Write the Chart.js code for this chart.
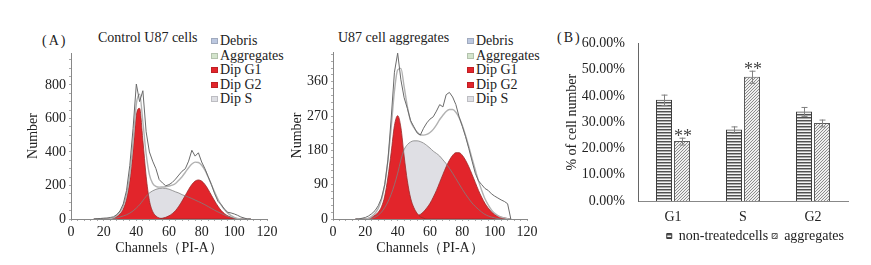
<!DOCTYPE html>
<html>
<head>
<meta charset="utf-8">
<script src="https://cdn.jsdelivr.net/npm/chart.js@4.4.0/dist/chart.umd.min.js"></script>
<style>
body { margin: 0; background: #fff; width: 871px; height: 265px; position: relative; overflow: hidden; font-family: "Liberation Serif", serif; color: #222; }
canvas { position: absolute; }
.lbl { position: absolute; font-size: 14px; line-height: 14px; white-space: nowrap; }
.leg { position: absolute; font-size: 14px; line-height: 14.5px; }
.leg div { position: relative; padding-left: 9px; white-space: nowrap; }
.leg span { position: absolute; left: 0; top: 4px; width: 7px; height: 6px; box-sizing: border-box; border: 1px solid rgba(0,0,0,0.15); }
</style>
</head>
<body>
<div class="lbl" style="left:42px;top:34px;letter-spacing:2px">(A)</div>
<div class="lbl" style="left:98px;top:31px">Control U87 cells</div>
<div class="lbl" style="left:338px;top:31px">U87 cell aggregates</div>
<div class="lbl" style="left:557px;top:31px;letter-spacing:2px">(B)</div>
<div class="leg" id="legCtrl" style="left:211px;top:34px"></div>
<div class="leg" id="legAggr" style="left:467px;top:34px"></div>
<canvas id="ctrl" width="285" height="235" style="left:0;top:30px"></canvas>
<canvas id="aggr" width="265" height="235" style="left:285px;top:30px"></canvas>
<canvas id="bars" width="311" height="235" style="left:560px;top:30px"></canvas>
<script>
// channel grid shared by all histogram series
const channels = [14,16,18,20,22,24,26,28,30,32,34,36,38,40,42,44,46,48,50,52,54,56,58,60,62,64,66,68,70,72,74,76,78,80,82,84,86,88,90,92,94,96,98,100,102,104,106,108,110];

// Control U87 cells
const ctrlG1  = [0,0,0,0,0,2,6,15,30,60,120,230,410,620,660,470,255,110,45,18,6,2,0,0,0,0,0,0,0,0,0,0,0,0,0,0,0,0,0,0,0,0,0,0,0,0,0,0,0];
const ctrlS   = [0,0,0,0,0,0,2,6,12,18,25,35,48,65,85,110,135,155,168,177,182,184,182,178,170,162,155,145,138,130,122,113,104,95,85,74,63,52,42,33,24,16,10,5,2,0,0,0,0];
const ctrlG2  = [0,0,0,0,0,0,0,0,0,0,0,0,0,0,0,0,0,0,0,0,2,5,10,19,32,50,76,107,141,176,206,226,233,226,206,176,141,107,76,50,32,19,10,5,2,0,0,0,0];
const ctrlFit = [0,0,0,0,0,2,8,21,42,78,145,265,458,685,745,580,390,265,213,195,190,191,192,197,202,212,231,252,279,306,328,339,337,321,291,250,204,159,118,83,56,35,20,10,4,1,0,0,0];
const ctrlRaw = [0,2,3,5,6,9,13,26,48,90,170,320,540,805,700,765,520,400,345,300,235,215,198,205,218,238,262,285,300,345,410,375,395,340,300,252,205,150,105,85,58,40,36,30,22,12,6,0,0];

// U87 cell aggregates
const aggrG1  = [0,0,0,0,2,5,10,18,32,60,110,175,245,271,240,165,100,55,30,15,6,2,0,0,0,0,0,0,0,0,0,0,0,0,0,0,0,0,0,0,0,0,0,0,0,0,0,0,0];
const aggrS   = [0,0,0,0,0,2,5,10,18,30,45,65,90,120,155,182,195,202,205,205,203,199,193,186,178,172,165,155,145,133,120,106,92,78,65,53,42,33,25,18,12,8,5,3,1,0,0,0,0];
const aggrG2  = [0,0,0,0,0,0,0,0,0,0,0,0,0,0,0,0,0,0,5,8,12,19,29,41,57,75,96,117,137,154,167,174,174,167,154,137,117,96,75,57,41,29,19,12,8,5,3,1,0];
const aggrFit = [0,0,0,0,2,7,15,28,50,90,155,240,335,391,395,347,295,257,240,228,221,220,222,227,235,247,261,272,282,287,287,280,266,245,219,190,159,129,100,75,53,37,24,15,9,5,3,1,0];
const aggrRaw = [0,0,2,4,8,14,22,35,55,90,155,265,385,435,365,318,290,258,242,226,220,238,252,262,268,283,300,294,326,332,320,300,268,243,216,185,152,120,100,90,80,75,66,60,55,50,46,40,0];

const legendNames  = ['Debris', 'Aggregates', 'Dip G1', 'Dip G2', 'Dip S'];
const legendColors = ['#bcc8e0', '#d3e4cc', '#e2252b', '#e2252b', '#dedfe4'];

// Panel B
const phases        = ['G1', 'S', 'G2'];
const nonTreated    = [38.5, 27.2, 34.1];
const nonTreatedErr = [2.0, 1.2, 1.7];
const nonTreatedSig = ['', '', ''];
const aggregates    = [22.8, 47.3, 29.7];
const aggregatesErr = [1.3, 2.3, 1.3];
const aggregatesSig = ['**', '**', ''];

const RED = '#e2252b';
const FAMILY = '"Liberation Serif", "Times New Roman", serif';
const serif = { family: FAMILY, size: 14 };

function pts(ys) {
  return channels.map((c, i) => ({ x: c, y: ys[i] }));
}

function buildLegend(id) {
  document.getElementById(id).innerHTML = legendNames.map((n, i) =>
    '<div><span style="background:' + legendColors[i] + '"></span>' + n + '</div>').join('');
}

function makeHist(id, g1, g2, s, fit, raw, yMax, labelStep, minorStep, yWidth, rightPad, topPad, yTitlePad) {
  const line = { pointRadius: 0, cubicInterpolationMode: 'monotone', fill: false };
  return new Chart(document.getElementById(id), {
    type: 'line',
    data: {
      datasets: [
        { ...line, data: pts(raw), borderColor: '#6a6a6a', borderWidth: 1, cubicInterpolationMode: 'default', tension: 0, order: 0 },
        { ...line, data: pts(fit), borderColor: '#b2b2b2', borderWidth: 1.4, order: 1 },
        { ...line, data: pts(s), borderColor: '#808080', borderWidth: 0.8, order: 2 },
        { ...line, data: pts(g1), borderColor: '#9a2a2a', borderWidth: 0.8, backgroundColor: RED, fill: 'origin', order: 3 },
        { ...line, data: pts(g2), borderColor: '#9a2a2a', borderWidth: 0.8, backgroundColor: RED, fill: 'origin', order: 3 },
        { ...line, data: pts(s), borderColor: 'rgba(0,0,0,0)', borderWidth: 0, backgroundColor: '#dfdfe4', fill: 'origin', order: 4 }
      ]
    },
    options: {
      responsive: false,
      animation: false,
      layout: { padding: { top: topPad, right: rightPad, left: 0, bottom: 0 } },
      plugins: { legend: { display: false }, tooltip: { enabled: false } },
      scales: {
        x: {
          type: 'linear', min: 0, max: 120,
          ticks: { stepSize: 4, autoSkip: false, maxTicksLimit: 100, maxRotation: 0, padding: 3, font: serif,
                   callback: v => (v % 20 === 0 ? v : '') },
          grid: { display: true, drawOnChartArea: false, tickLength: 2, color: '#aaa' },
          border: { color: '#888' },
          title: { display: true, text: 'Channels（PI-A）', font: serif, padding: { top: 0, bottom: 8 } },
          afterFit: sc => { sc.height = 46; }
        },
        y: {
          min: 0, max: yMax,
          ticks: { stepSize: minorStep, includeBounds: false, autoSkip: false, maxTicksLimit: 100, padding: 3, font: serif,
                   callback: v => (v % labelStep === 0 ? v : '') },
          grid: { display: true, drawOnChartArea: false, tickLength: 2, color: '#aaa' },
          border: { color: '#888' },
          title: { display: true, text: 'Number', font: serif, padding: { top: yTitlePad, bottom: 0 } },
          afterFit: sc => { sc.width = yWidth; }
        }
      }
    }
  });
}

// bar fill patterns
function stripes() {
  const c = document.createElement('canvas');
  c.width = 4; c.height = 3;
  const x = c.getContext('2d');
  x.fillStyle = '#f4f4f4'; x.fillRect(0, 0, 4, 3);
  x.fillStyle = '#505050'; x.fillRect(0, 0, 4, 1);
  x.fillStyle = '#a8a8a8'; x.fillRect(0, 1, 4, 1);
  return x.createPattern(c, 'repeat');
}
function hatch() {
  const c = document.createElement('canvas');
  c.width = 3; c.height = 3;
  const x = c.getContext('2d');
  x.fillStyle = '#f0f0f0'; x.fillRect(0, 0, 3, 3);
  x.fillStyle = '#8c8c8c';
  x.fillRect(2, 0, 1, 1); x.fillRect(1, 1, 1, 1); x.fillRect(0, 2, 1, 1);
  return x.createPattern(c, 'repeat');
}

const errorBars = {
  id: 'errorBars',
  afterDatasetsDraw(chart) {
    const ctx = chart.ctx;
    const yS = chart.scales.y;
    ctx.save();
    chart.data.datasets.forEach((ds, di) => {
      const meta = chart.getDatasetMeta(di);
      meta.data.forEach((bar, j) => {
        const v = ds.data[j], e = ds.errors[j];
        const top = yS.getPixelForValue(v + e), bot = yS.getPixelForValue(v - e);
        ctx.strokeStyle = '#808080';
        ctx.lineWidth = 1;
        ctx.beginPath();
        ctx.moveTo(bar.x + 0.5, top); ctx.lineTo(bar.x + 0.5, bot);
        ctx.moveTo(bar.x - 2.5, top + 0.5); ctx.lineTo(bar.x + 3.5, top + 0.5);
        ctx.moveTo(bar.x - 2.5, bot + 0.5); ctx.lineTo(bar.x + 3.5, bot + 0.5);
        ctx.stroke();
        if (ds.sig[j]) {
          ctx.fillStyle = '#444';
          ctx.font = '18px ' + FAMILY;
          ctx.textAlign = 'center';
          ctx.textBaseline = 'alphabetic';
          ctx.fillText(ds.sig[j], bar.x + 1, top + 4);
        }
      });
    });
    ctx.restore();
  }
};

function drawAll() {
  Chart.defaults.font.family = FAMILY;
  Chart.defaults.font.size = 14;
  Chart.defaults.color = '#222';
  buildLegend('legCtrl');
  buildLegend('legAggr');

  makeHist('ctrl', ctrlG1, ctrlG2, ctrlS, ctrlFit, ctrlRaw, 990, 200, 50, 71, 18, 23, 25);
  makeHist('aggr', aggrG1, aggrG2, aggrS, aggrFit, aggrRaw, 438, 90, 18, 48, 23, 22, 4);

  new Chart(document.getElementById('bars'), {
    type: 'bar',
    data: {
      labels: phases,
      datasets: [
        { label: 'non-treatedcells', data: nonTreated, errors: nonTreatedErr, sig: nonTreatedSig,
          backgroundColor: stripes(), borderColor: '#3c3c3c', borderWidth: 1, barPercentage: 0.89, categoryPercentage: 0.514 },
        { label: 'aggregates', data: aggregates, errors: aggregatesErr, sig: aggregatesSig,
          backgroundColor: hatch(), borderColor: '#5a5a5a', borderWidth: 1, barPercentage: 0.89, categoryPercentage: 0.514 }
      ]
    },
    options: {
      responsive: false,
      animation: false,
      layout: { padding: { top: 13, right: 23, left: 0, bottom: 12 } },
      plugins: {
        tooltip: { enabled: false },
        legend: {
          position: 'bottom',
          align: 'end',
          labels: { boxWidth: 5, boxHeight: 5, padding: 4, font: { family: FAMILY, size: 14 } }
        }
      },
      scales: {
        x: {
          grid: { display: false },
          border: { color: '#888' },
          ticks: { font: serif, padding: 0 },
          afterFit: sc => { sc.height = 24; }
        },
        y: {
          min: 0, max: 60,
          ticks: { stepSize: 10, font: serif, padding: 5, callback: v => v.toFixed(2) + '%' },
          grid: { display: false },
          border: { color: '#666' },
          title: { display: true, text: '% of cell number', font: serif, padding: { top: 4, bottom: 0 } },
          afterFit: sc => { sc.width = 78; }
        }
      }
    },
    plugins: [errorBars]
  });
}

document.fonts.load('14px "Liberation Serif"').then(drawAll, drawAll);
</script>
</body>
</html>
